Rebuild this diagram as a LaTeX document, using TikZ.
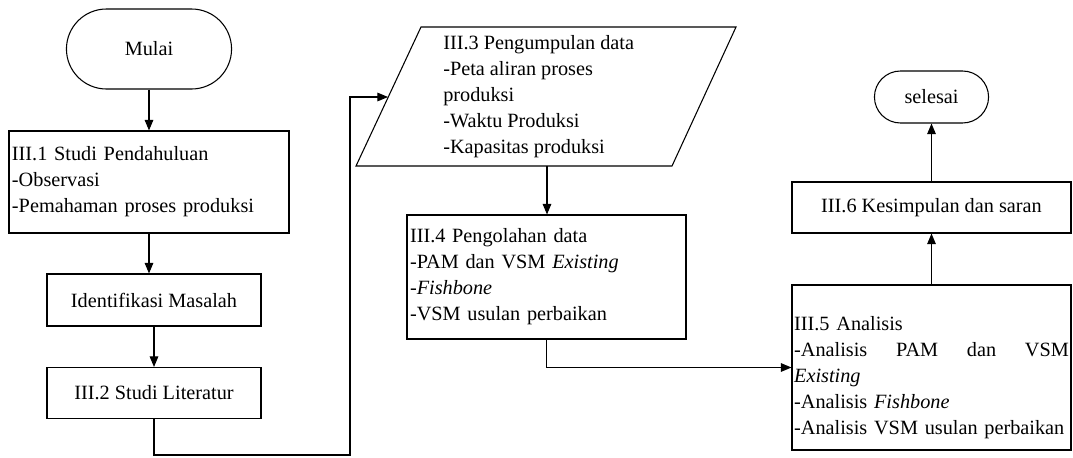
\documentclass[tikz,border=0pt]{standalone}
\usepackage{fontspec}
\setmainfont{Liberation Serif}
\usetikzlibrary{arrows.meta,shapes.misc}
\hyphenpenalty=10000
\begin{document}
\begin{tikzpicture}[x=0.75pt,y=-0.75pt,
  txt/.style={font=\fontsize{15.2}{19.5}\selectfont},
  base/.style={txt, draw, line width=0.8pt},
  proc/.style={base, rectangle, inner xsep=2.25pt},
  term/.style={base, rounded rectangle},
  arr/.style={-{Triangle[length=8pt,width=6.5pt]}, line width=0.8pt}]
\useasboundingbox (0,0) rectangle (1073,457);

\node[term, minimum width=130.5pt, minimum height=60pt] (mulai) at (149,49) {Mulai};
\node[proc, minimum width=210pt, minimum height=76.5pt, text width=205.5pt, align=left] (s1) at (149,182)
  {III.1 Studi Pendahuluan\\-Observasi\\-Pemahaman proses produksi};
\node[proc, minimum width=160.5pt, minimum height=39pt] (idm) at (154,300) {Identifikasi Masalah};
\node[proc, minimum width=160.5pt, minimum height=38.25pt] (s2) at (154,393) {III.2 Studi Literatur};

\draw[line width=0.8pt] (421,27) -- (736,27) -- (672,166) -- (356,166) -- cycle;
\node[txt, align=left, anchor=west, inner sep=0pt] (s3) at (443,97)
  {III.3 Pengumpulan data\\-Peta aliran proses\\produksi\\-Waktu Produksi\\-Kapasitas produksi};
\coordinate (s3in) at (388,97);
\coordinate (s3out) at (547,166);

\node[proc, minimum width=209.25pt, minimum height=93pt, text width=204.75pt, align=left] (s4) at (546.5,277)
  {III.4 Pengolahan data\\-PAM dan VSM \textit{Existing}\\\textit{-Fishbone}\\-VSM usulan perbaikan};

\node[proc, minimum width=209.25pt, minimum height=123.75pt] (s5) at (931.5,367.5) {};
\node[txt, text width=206pt, align=left, inner sep=0pt] (s5t) at (931.5,378)
  {III.5 Analisis\\-Analisis\hfill PAM\hfill dan\hfill VSM\\\textit{Existing}\\-Analisis \textit{Fishbone}\\\mbox{-Analisis VSM usulan perbaikan}};

\node[proc, minimum width=209.25pt, minimum height=38.25pt] (s6) at (931.5,207.5) {III.6 Kesimpulan dan saran};
\node[term, minimum width=92.25pt, minimum height=39pt] (sel) at (931.5,97) {selesai};

\coordinate (c1) at (350,455);
\draw[arr] (mulai.south) -- (s1.north);
\draw[arr] (s1.south) -- (s1.south |- idm.north);
\draw[arr] (idm.south) -- (s2.north);
\draw[arr] (s2.south) |- (c1) |- (s3in);
\draw[arr] (s3out) -- (s3out |- s4.north);
\draw[arr] (s4.south) |- (s5.west);
\draw[arr] (s5.north) -- (s6.south);
\draw[arr] (s6.north) -- (sel.south);
\end{tikzpicture}
\end{document}
